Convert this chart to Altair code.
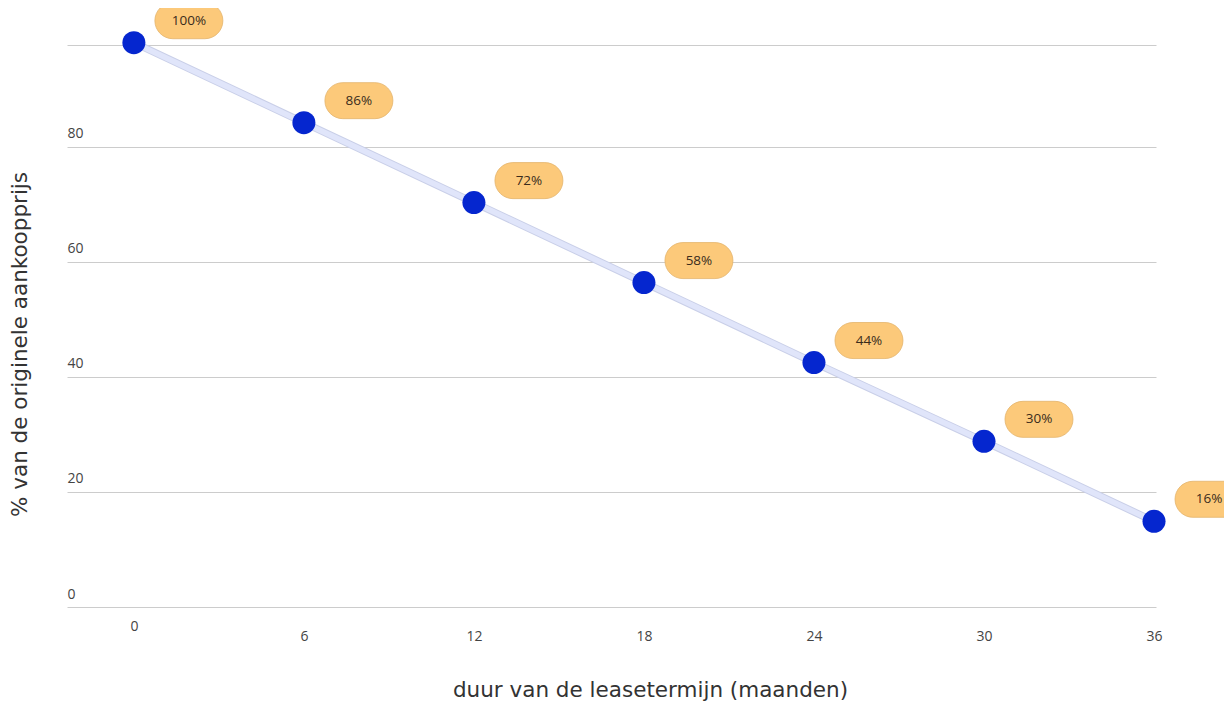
import altair as alt
import pandas as pd

months = [0, 6, 12, 18, 24, 30, 36]
pct = [98.1, 84.2, 70.3, 56.4, 42.5, 28.8, 14.9]
badge_labels = ["100%", "86%", "72%", "58%", "44%", "30%", "16%"]
y_ticks = [0, 20, 40, 60, 80, 97.7]

df = pd.DataFrame({"m": months, "p": pct, "lab": badge_labels})

FONT = "Open Sans"
TFONT = "DejaVu Sans"

x_enc = alt.X(
    "m:Q",
    scale=alt.Scale(domain=[-2.36, 36.07], nice=False, zero=False),
    axis=alt.Axis(
        values=months,
        grid=False,
        domain=False,
        ticks=False,
        labelFont=FONT,
        labelFontSize=14,
        labelColor="#444444",
        labelBaseline="middle",
        labelPadding={"expr": "datum.value == 0 ? 19 : 29"},
        title="duur van de leasetermijn (maanden)",
        titleFont=TFONT,
        titleFontSize=21.5,
        titleFontWeight="normal",
        titleColor="#333333",
        titleX=583,
        titleY=83,
        titleBaseline="middle",
    ),
)
y_enc = alt.Y(
    "p:Q",
    scale=alt.Scale(domain=[0, 97.7], nice=False),
    axis=alt.Axis(
        values=y_ticks,
        labelExpr="datum.value > 90 ? '' : datum.label",
        grid=True,
        gridColor="#cccccc",
        gridWidth=1,
        domain=False,
        ticks=False,
        labelAlign="left",
        labelBaseline="bottom",
        labelPadding=0,
        labelOffset=-6,
        labelFont=FONT,
        labelFontSize=14,
        labelColor="#444444",
        title="% van de originele aankoopprijs",
        titleFont=TFONT,
        titleFontSize=21.5,
        titleFontWeight="normal",
        titleColor="#333333",
        titleAngle=-90,
        titleX=-47,
        titleY=299,
        titleAlign="center",
        titleBaseline="middle",
    ),
)

base = alt.Chart(df)

line_outer = base.mark_line(color="#c9cfe8", strokeWidth=7.5).encode(x=x_enc, y=y_enc)
line_inner = base.mark_line(color="#e0e5fa", strokeWidth=5.5).encode(x=x_enc, y=y_enc)
dots = base.mark_circle(color="#0526cf", size=530, opacity=1).encode(x=x_enc, y=y_enc)

pill = "M -0.47 -0.53 L 0.47 -0.53 A 0.53 0.53 0 0 1 0.47 0.53 L -0.47 0.53 A 0.53 0.53 0 0 1 -0.47 -0.53 Z"
badges = base.mark_point(
    shape=pill, size=4624, filled=True, fill="#fcc97a", stroke="#e3b46c",
    strokeWidth=0.8, opacity=1, xOffset=55, yOffset=-22,
).encode(x=x_enc, y=y_enc)
badge_text = base.mark_text(
    font=FONT, fontSize=13.5, color="#3a2c1c", dx=55, dy=-22, baseline="middle", align="center"
).encode(x=x_enc, y=y_enc, text="lab:N")

chart = (
    alt.layer(line_outer, line_inner, dots, badges, badge_text)
    .properties(
        width=1089,
        height=562,
        autosize=alt.AutoSizeParams(type="none"),
        padding={"left": 59, "top": 37, "right": 68, "bottom": 96},
        view=alt.ViewBackground(strokeOpacity=0, strokeWidth=0),
    )
    .configure_view(strokeWidth=0, strokeOpacity=0)
    .configure(background="white")
)

chart.save("out.html", embed_options={"renderer": "svg", "actions": False})
